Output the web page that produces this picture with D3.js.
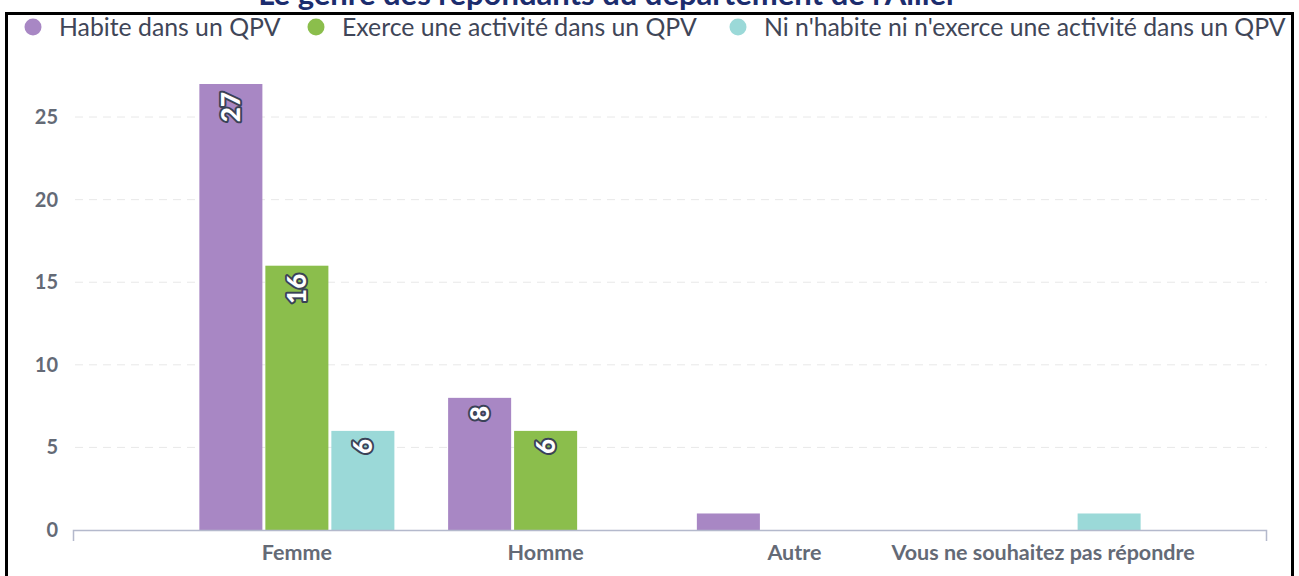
<!DOCTYPE html>
<html lang="fr">
<head>
<meta charset="utf-8">
<script src="https://cdn.jsdelivr.net/npm/d3@7"></script>
<style>
    html, body { margin: 0; padding: 0; background: #fff; }
    svg { display: block; font-family: Lato, "Open Sans", sans-serif; }
</style>
</head>
<body>
<div id="chart"></div>
<script>
// données
const categories = ["Femme", "Homme", "Autre", "Vous ne souhaitez pas répondre"];
const seriesNames = ["Habite dans un QPV", "Exerce une activité dans un QPV", "Ni n'habite ni n'exerce une activité dans un QPV"];
const habite = [27, 8, 1, 0];
const exerce = [16, 6, 0, 0];
const ni = [6, 0, 0, 1];
const yTicks = [0, 5, 10, 15, 20, 25];
const colors = ["#a887c4", "#8bbe4c", "#9bd9d8"];
const title = "Le genre des répondants du département de l'Allier";

document.addEventListener("DOMContentLoaded", function() {
    const width = 1299, height = 576;
    const series = [habite, exerce, ni];

    const svg = d3.select("#chart").append("svg")
        .attr("width", width)
        .attr("height", height);

    // titre (coupé en haut dans l'original)
    svg.append("text")
        .attr("x", 608)
        .attr("y", 5)
        .attr("text-anchor", "middle")
        .style("font-family", "Lato, sans-serif")
        .style("font-weight", "bold")
        .style("font-size", "31px")
        .style("fill", "#1c2d6e")
        .text(title);

    // cadre noir
    svg.append("rect")
        .attr("x", 6.5)
        .attr("y", 13.5)
        .attr("width", 1286)
        .attr("height", 600)
        .style("fill", "none")
        .style("stroke", "#000")
        .style("stroke-width", 3);

    const x = d3.scaleBand()
        .domain(categories)
        .range([73, 1267])
        .paddingInner(0)
        .paddingOuter(0.4);

    const xInner = d3.scaleBand()
        .domain(d3.range(series.length))
        .range([0, x.bandwidth()])
        .paddingInner(0.045)
        .paddingOuter(0.407);

    const y = d3.scaleLinear()
        .domain([0, 27])
        .range([530, 84]);

    // grille pointillée
    svg.append("g")
        .selectAll("line")
        .data(yTicks.filter(d => d > 0))
        .enter().append("line")
        .attr("x1", 75)
        .attr("x2", 1267)
        .attr("y1", d => y(d))
        .attr("y2", d => y(d))
        .style("stroke", "#e8e8e8")
        .style("stroke-width", 1)
        .style("stroke-dasharray", "8,6");

    // axe y (sans ligne)
    const yAxis = svg.append("g")
        .attr("transform", "translate(58,0)")
        .call(d3.axisLeft(y).tickValues(yTicks).tickSize(0).tickPadding(0));
    yAxis.select(".domain").remove();
    yAxis.selectAll("text")
        .style("font-family", "Lato, sans-serif")
        .style("font-size", "20px")
        .style("font-weight", "bold")
        .style("fill", "#646a76");

    // barres
    const groups = svg.append("g")
        .selectAll("g")
        .data(categories)
        .enter().append("g")
        .attr("transform", d => `translate(${x(d)},0)`);

    const bars = groups.selectAll("g")
        .data((c, i) => series.map((s, k) => ({ k: k, v: s[i] })))
        .enter().append("g");

    bars.filter(d => d.v > 0).append("rect")
        .attr("x", d => xInner(d.k))
        .attr("y", d => y(d.v))
        .attr("width", xInner.bandwidth())
        .attr("height", d => y(0) - y(d.v))
        .style("fill", d => colors[d.k]);

    // étiquettes de données, tournées
    bars.filter(d => d.v > 1).append("text")
        .attr("transform", d => `translate(${xInner(d.k) + xInner.bandwidth() / 2},${y(d.v) + 8}) rotate(-90)`)
        .attr("text-anchor", "end")
        .attr("dy", "0.36em")
        .style("font-family", "Lato, sans-serif")
        .style("font-size", "26px")
        .style("font-weight", "900")
        .style("fill", "#fff")
        .style("stroke", "#3a4257")
        .style("stroke-width", 4)
        .style("stroke-linejoin", "round")
        .style("paint-order", "stroke")
        .text(d => d.v);

    // axe x
    const xAxis = svg.append("g")
        .attr("transform", "translate(0,530)")
        .call(d3.axisBottom(x).tickSize(0).tickPadding(15).tickSizeOuter(0));
    xAxis.select(".domain").remove();
    xAxis.selectAll("text")
        .style("font-family", "Lato, sans-serif")
        .style("font-size", "21.5px")
        .style("font-weight", "bold")
        .style("fill", "#646a76");

    svg.append("path")
        .attr("d", "M73.5,541V530.5H1266.5V541")
        .style("fill", "none")
        .style("stroke", "#b4b9cc")
        .style("stroke-width", 1.5);

    // légende
    const legendX = [33, 316, 738];
    const legend = svg.append("g")
        .selectAll("g")
        .data(seriesNames)
        .enter().append("g")
        .attr("transform", (d, i) => `translate(${legendX[i]},27)`);

    legend.append("circle")
        .attr("r", 8.5)
        .style("fill", (d, i) => colors[i]);

    legend.append("text")
        .attr("x", 26)
        .attr("dy", "0.35em")
        .style("font-family", "Lato, sans-serif")
        .style("font-size", "24.8px")
        .style("fill", "#3f4658")
        .text(d => d);
});
</script>
</body>
</html>
